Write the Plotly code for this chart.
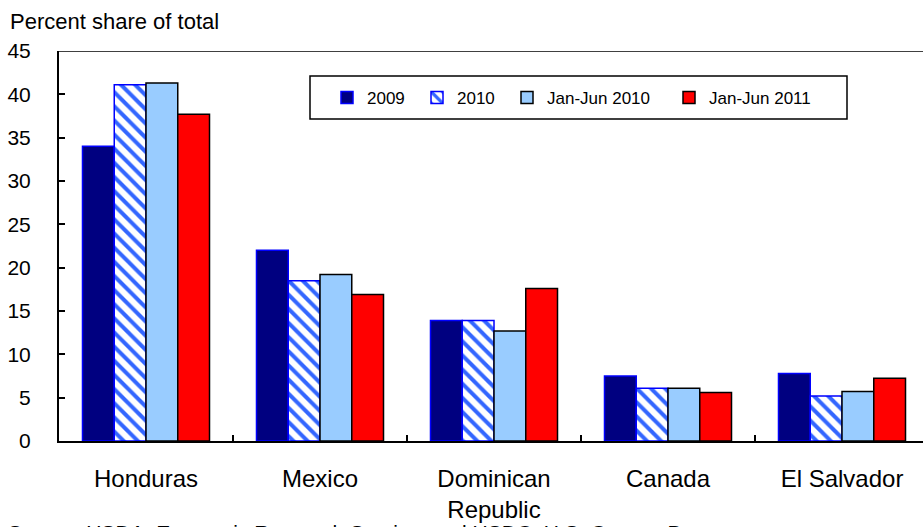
import plotly.graph_objects as go

categories = ["Honduras", "Mexico", "Dominican<br>Republic", "Canada", "El Salvador"]
series_names = ["2009", "2010", "Jan-Jun 2010", "Jan-Jun 2011"]
v2009 = [34.0, 22.0, 13.9, 7.5, 7.8]
v2010 = [41.1, 18.5, 13.9, 6.1, 5.2]
vh2010 = [41.3, 19.2, 12.7, 6.1, 5.7]
vh2011 = [37.7, 16.9, 17.6, 5.6, 7.25]
y_ticks = [0, 5, 10, 15, 20, 25, 30, 35, 40, 45]

FONT = "Liberation Sans, Arial, sans-serif"
W, H = 923, 527
ML, MT, MB, MR = 59, 51, 86, 0
PW = W - ML - MR
PH = H - MT - MB

def px_x(p):
    return (p - ML) / PW

def px_y(p):
    return (H - MB - p) / PH

fig = go.Figure()
fig.add_trace(go.Bar(name=series_names[0], x=categories, y=v2009, legend="legend",
                     marker=dict(color="#000080", line=dict(color="#0000FF", width=1.5))))
fig.add_trace(go.Bar(name=series_names[1], x=categories, y=v2010, legend="legend2",
                     marker=dict(color="white", line=dict(color="#0000FF", width=1.5),
                                 pattern=dict(shape="\\", fgcolor="#3366FF", bgcolor="white",
                                              size=10, solidity=0.4, fillmode="replace"))))
fig.add_trace(go.Bar(name=series_names[2], x=categories, y=vh2010, legend="legend3",
                     marker=dict(color="#99CCFF", line=dict(color="black", width=1.5))))
fig.add_trace(go.Bar(name=series_names[3], x=categories, y=vh2011, legend="legend4",
                     marker=dict(color="#FF0000", line=dict(color="black", width=1.5))))

def leg(text_start):
    return dict(orientation="h", x=px_x(text_start - 38), y=px_y(98),
                xanchor="left", yanchor="middle",
                borderwidth=0, bgcolor="rgba(0,0,0,0)",
                font=dict(size=17, family=FONT, color="black"), itemwidth=30)

fig.update_layout(
    width=W, height=H,
    margin=dict(l=ML, r=MR, t=MT, b=MB, pad=0),
    paper_bgcolor="white", plot_bgcolor="white",
    font=dict(family=FONT, color="black", size=18),
    barmode="group", bargap=0.27, bargroupgap=0,
    showlegend=True,
    legend=leg(365), legend2=leg(455), legend3=leg(545), legend4=leg(707),
    xaxis=dict(type="category", range=[-0.5, -0.5 + PW / 174.0],
               showline=True, linecolor="black", linewidth=2,
               ticks="inside", tickson="boundaries", ticklen=6, tickwidth=1.5, tickcolor="black",
               tickfont=dict(size=24, family=FONT), ticklabelstandoff=15,
               showgrid=False, zeroline=False, fixedrange=True),
    yaxis=dict(range=[0, 45], tickvals=y_ticks, ticktext=[str(t) for t in y_ticks],
               showline=True, linecolor="black", linewidth=2,
               ticks="inside", ticklen=6, tickwidth=1.5, tickcolor="black",
               tickfont=dict(size=21, family=FONT), ticklabelstandoff=22,
               showgrid=False, zeroline=False, fixedrange=True),
    shapes=[
        dict(type="line", xref="paper", yref="y", x0=0, x1=1, y0=45, y1=45,
             line=dict(color="black", width=1.5)),
        dict(type="rect", xref="paper", yref="paper",
             x0=px_x(310), x1=px_x(847), y0=px_y(76), y1=px_y(119),
             line=dict(color="black", width=1.5), fillcolor="rgba(0,0,0,0)", layer="above"),
    ],
    annotations=[
        dict(text="Percent share of total", xref="paper", yref="paper",
             x=px_x(8), y=px_y(21), xanchor="left", yanchor="middle",
             showarrow=False, font=dict(size=22, family=FONT)),
        dict(text="Source: USDA, Economic Research Service, and USDC, U.S. Census Bureau.",
             xref="paper", yref="paper", x=px_x(6), y=px_y(519), xanchor="left", yanchor="top",
             showarrow=False, font=dict(size=21, family=FONT)),
    ],
)

fig.write_html("out.html")
